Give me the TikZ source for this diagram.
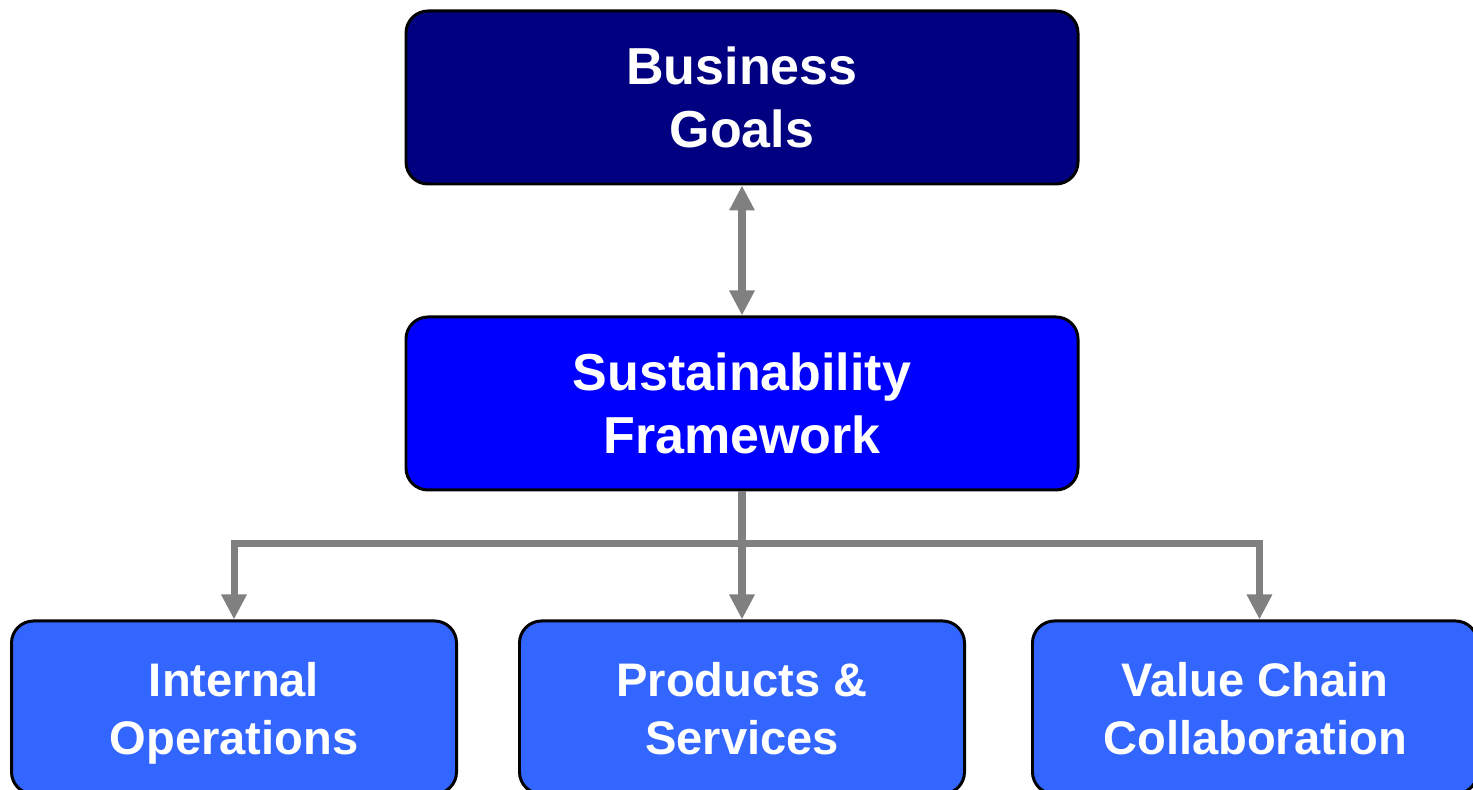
\documentclass[tikz,border=0pt]{standalone}
\usepackage{fontspec}
\setmainfont{Liberation Sans}
\usepackage{tikz}
\usetikzlibrary{positioning, arrows.meta, calc}
\definecolor{goalnavy}{RGB}{0, 0, 128}
\definecolor{frameblue}{RGB}{0, 0, 255}
\definecolor{leafblue}{RGB}{51, 102, 255}
\definecolor{linkgray}{RGB}{128, 128, 128}
\newcommand{\leaftop}{\rule{0pt}{26.5pt}}
\newcommand{\leafbot}{\rule[-6pt]{0pt}{0pt}}

\begin{document}
\begin{tikzpicture}[
      topbox/.style={draw=black, line width=1.7pt, rounded corners=0.44cm, minimum width=13.44cm, minimum height=3.46cm, align=center, text=white, font=\fontsize{29.6}{35.5}\selectfont\bfseries},
      leafbox/.style={draw=black, line width=1.7pt, rounded corners=0.44cm, fill=leafblue, minimum width=8.9cm, minimum height=3.46cm, align=center, text=white, font=\fontsize{26.8}{33.4}\selectfont\bfseries},
      link/.style={draw=linkgray, line width=4pt, line join=miter},
      tip/.style={-{Triangle[width=0.48cm, length=0.5cm]}},
      bothtips/.style={{Triangle[width=0.48cm, length=0.5cm]}-{Triangle[width=0.48cm, length=0.5cm]}},
    ]
    \useasboundingbox (0,0) rectangle (29.46,-15.8);
    \node[topbox, fill=goalnavy] (goals) at (14.84,-1.95) {Business\\Goals};
    \node[topbox, fill=frameblue, below=2.6cm of goals] (frame) {Sustainability\\Framework};
    \node[leafbox, below=2.56cm of frame] (prod) {\leaftop Products \&\\Services\leafbot};
    \node[leafbox, left=1.2cm of prod] (intops) {\leaftop Internal\\Operations\leafbot};
    \node[leafbox, right=1.3cm of prod] (chain) {\leaftop Value Chain\\Collaboration\leafbot};
    % Arrows
    \draw[link, bothtips] (frame.north) -- (goals.south);
    \coordinate (split) at ($(frame.south)!0.405!(prod.north)$);
    \draw[link, tip] (frame.south) -- (prod.north);
    \draw[link, bothtips] (intops.north) |- (split) -| ([xshift=0.09cm]chain.north);
  \end{tikzpicture}
\end{document}
